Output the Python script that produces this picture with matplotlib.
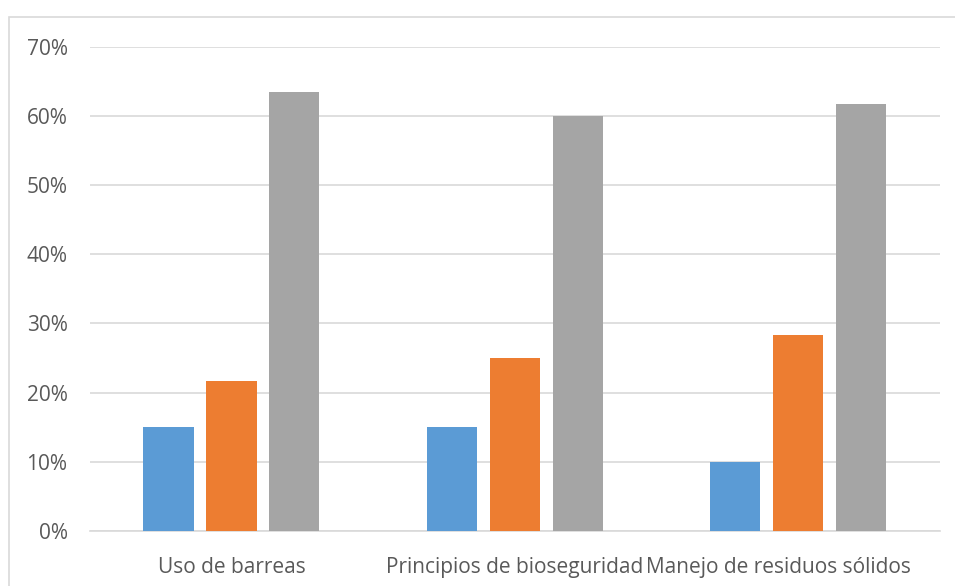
import numpy as np
import matplotlib
matplotlib.use("Agg")
import matplotlib.pyplot as plt
from matplotlib.patches import Rectangle
from matplotlib.ticker import PercentFormatter
from matplotlib.transforms import ScaledTranslation

categories = ["Uso de barreas", "Principios de bioseguridad", "Manejo de residuos sólidos"]
serie_azul = [0.15, 0.15, 0.10]
serie_naranja = [0.217, 0.25, 0.284]
serie_gris = [0.635, 0.60, 0.618]

plt.rcParams['font.family'] = ['Open Sans', 'DejaVu Sans']

fig = plt.figure(figsize=(9.55, 5.86), dpi=100)
ax = fig.add_axes([0.094, 0.094, 0.890, 0.826])

x = np.arange(len(categories))
w = 0.177
off = 0.222
ax.bar(x - off, serie_azul, w, color="#5b9bd5", zorder=3)
ax.bar(x, serie_naranja, w, color="#ed7d31", zorder=3)
ax.bar(x + off, serie_gris, w, color="#a5a5a5", zorder=3)

ax.set_xlim(-0.5, 2.5)
ax.set_ylim(0, 0.7)
ax.set_yticks(np.arange(0, 0.71, 0.1))
ax.yaxis.set_major_formatter(PercentFormatter(1.0, decimals=0))
ax.set_xticks(x)
ax.set_xticklabels(categories)
ax.grid(axis="y", color="#d9d9d9", linewidth=1.2, zorder=0)
for s in ["top", "right", "left"]:
    ax.spines[s].set_visible(False)
ax.spines["bottom"].set_color("#d9d9d9")
ax.spines["bottom"].set_linewidth(1.2)
ax.tick_params(axis="both", length=0, labelsize=15, colors="#595959")
ax.tick_params(axis="y", pad=16)
ax.tick_params(axis="x", pad=19)

# la última etiqueta queda corrida a la izquierda, como en Excel
lbl = ax.get_xticklabels()[-1]
lbl.set_transform(lbl.get_transform() + ScaledTranslation(-0.2, 0, fig.dpi_scale_trans))

# marco del gráfico
fig.patches.append(Rectangle((9 / 955, -0.1), 1.1, (586 - 17) / 586 + 0.1,
                             transform=fig.transFigure, fill=False,
                             edgecolor="#d9d9d9", linewidth=1.2))

fig.savefig("out.png", dpi=100)
